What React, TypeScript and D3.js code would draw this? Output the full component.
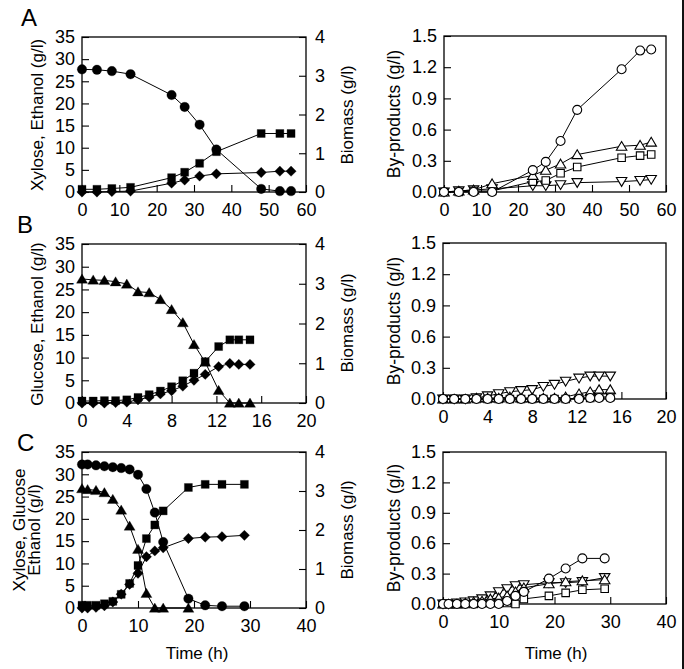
import React, { useEffect, useRef } from 'react';
import * as d3 from 'd3';

// ---- row A: xylose
const timeA = [0, 4, 8, 13, 24, 27.5, 31.5, 36, 48, 53, 56];
const xyloseA = [27.7, 27.6, 27.3, 26.6, 21.9, 19.2, 15.2, 9.6, 0.7, 0.2, 0.2];
const ethanolA = [0, 0, 0.1, 0.2, 2.0, 2.7, 3.6, 4.1, 4.4, 4.7, 4.7];
const biomassA = [0.07, 0.07, 0.09, 0.12, 0.37, 0.51, 0.74, 1.04, 1.51, 1.51, 1.51];
const byCircleA = [0, 0, 0, 0, 0.21, 0.29, 0.49, 0.79, 1.18, 1.36, 1.37];
const byTriUpA = [0, 0.01, 0.02, 0.08, 0.16, 0.21, 0.27, 0.36, 0.44, 0.45, 0.48];
const bySquareA = [0, 0, 0.01, 0.01, 0.1, 0.11, 0.18, 0.24, 0.33, 0.35, 0.36];
const byTriDownA = [0, 0.01, 0.02, 0.03, 0.06, 0.06, 0.07, 0.09, 0.1, 0.11, 0.12];

// ---- row B: glucose
const timeB = [0, 1, 2, 3, 4, 5, 6, 7, 8, 9, 10, 11, 12.2, 13.2, 14, 15];
const glucoseB = [27.3, 27.1, 27.0, 26.7, 26.2, 24.5, 24.3, 22.8, 20.6, 17.7, 12.9, 9.0, 2.8, 0, 0, 0];
const ethanolB = [0, 0, 0, 0.1, 0.2, 0.7, 1.3, 2.0, 2.7, 3.7, 5.0, 6.3, 8.0, 8.7, 8.5, 8.5];
const biomassB = [0.05, 0.05, 0.06, 0.06, 0.08, 0.14, 0.21, 0.3, 0.41, 0.56, 0.75, 1.04, 1.42, 1.59, 1.59, 1.59];
const byTriDownB = [0, 0, 0, 0.01, 0.03, 0.05, 0.07, 0.08, 0.09, 0.12, 0.14, 0.17, 0.2, 0.22, 0.22, 0.22];
const byTriUpB = [0, 0, 0, 0.01, 0.01, 0.01, 0.02, 0.01, 0.01, 0.01, 0.01, 0.02, 0.05, 0.07, 0.09, 0.09];
const bySquareB = [0, 0, 0, 0, 0, 0, 0, 0, 0, 0, 0, 0, 0.01, 0.01, 0.02, 0.02];
const byCircleB = [0, 0, 0, 0, 0, 0, 0, 0, 0, 0, 0, 0, 0, 0.01, 0.01, 0.01];

// ---- row C: xylose + glucose
const timeC = [0, 1, 2.5, 4, 5.5, 7, 8.5, 10, 11.5, 13, 14.5, 19, 22, 25, 29];
const timeGlucoseC = [0, 1, 2.5, 4, 5.5, 7, 8.5, 10, 11.5, 13, 14.5, 19];
const xyloseC = [32.2, 32.2, 32.0, 31.8, 31.6, 31.4, 31.1, 29.9, 26.7, 21.4, 14.8, 2.1, 0.6, 0.4, 0.4];
const glucoseC = [26.8, 26.6, 26.4, 25.9, 24.4, 22.0, 18.4, 13.2, 3.3, 0, 0, 0];
const ethanolC = [0, 0, 0.15, 0.5, 1.35, 3.1, 5.3, 7.8, 11.5, 12.8, 13.5, 15.6, 15.9, 16.0, 16.3];
const biomassC = [0.07, 0.07, 0.07, 0.11, 0.17, 0.35, 0.63, 1.09, 1.78, 2.13, 2.49, 3.09, 3.17, 3.17, 3.17];
const byCircleC = [0, 0, 0, 0, 0, 0, 0, 0, 0.03, 0.08, 0.12, 0.25, 0.35, 0.45, 0.45];
const byTriDownC = [0, 0, 0.01, 0.02, 0.03, 0.05, 0.08, 0.12, 0.15, 0.18, 0.19, 0.21, 0.21, 0.22, 0.26];
const byTriUpC = [0, 0, 0, 0.01, 0.02, 0.03, 0.05, 0.06, 0.08, 0.12, 0.16, 0.2, 0.22, 0.23, 0.24];
const bySquareC = [0, 0, 0, 0, 0, 0.01, 0.01, 0.01, 0.01, 0, 0.05, 0.08, 0.11, 0.14, 0.15];

// ---- ticks
const concTicks = [0, 5, 10, 15, 20, 25, 30, 35];
const biomassTicks = [0, 1, 2, 3, 4];
const byTicks = [0, 0.3, 0.6, 0.9, 1.2, 1.5];
const timeTicksA = [0, 10, 20, 30, 40, 50, 60];
const timeTicksB = [0, 4, 8, 12, 16, 20];
const timeTicksC = [0, 10, 20, 30, 40];

const W = 684, H = 669;
const FONT = "'Liberation Sans', Arial, Helvetica, sans-serif";

type Shape = 'circle' | 'square' | 'diamond' | 'triUp' | 'triDown';

function markerPath(shape: Shape, s: number) {
  const h = s / 2;
  if (shape === 'circle') return `M${h},0A${h},${h} 0 1,1 ${-h},0A${h},${h} 0 1,1 ${h},0Z`;
  if (shape === 'square') return `M${-h},${-h}H${h}V${h}H${-h}Z`;
  if (shape === 'diamond') return `M0,${-h * 1.15}L${h * 1.15},0L0,${h * 1.15}L${-h * 1.15},0Z`;
  if (shape === 'triUp') return `M0,${-h}L${h * 1.1},${h * 0.85}L${-h * 1.1},${h * 0.85}Z`;
  return `M0,${h}L${h * 1.1},${-h * 0.85}L${-h * 1.1},${-h * 0.85}Z`;
}

const S = (t, v, shape: Shape, filled, right = false) => ({ t, v, shape, filled, right });

const panels = [
  { x0: 82, x1: 306, y0: 37, y1: 192, xMax: 60, xTicks: timeTicksA, dual: true,
    series: [S(timeA, xyloseA, 'circle', true), S(timeA, biomassA, 'square', true, true), S(timeA, ethanolA, 'diamond', true)] },
  { x0: 444, x1: 666, y0: 36, y1: 192, xMax: 60, xTicks: timeTicksA, dual: false,
    series: [S(timeA, byTriDownA, 'triDown', false), S(timeA, bySquareA, 'square', false), S(timeA, byTriUpA, 'triUp', false), S(timeA, byCircleA, 'circle', false)] },
  { x0: 82, x1: 306, y0: 244, y1: 403, xMax: 20, xTicks: timeTicksB, dual: true,
    series: [S(timeB, glucoseB, 'triUp', true), S(timeB, biomassB, 'square', true, true), S(timeB, ethanolB, 'diamond', true)] },
  { x0: 443, x1: 666, y0: 243, y1: 399, xMax: 20, xTicks: timeTicksB, dual: false,
    series: [S(timeB, byTriDownB, 'triDown', false), S(timeB, byTriUpB, 'triUp', false), S(timeB, bySquareB, 'square', false), S(timeB, byCircleB, 'circle', false)] },
  { x0: 82, x1: 306, y0: 452, y1: 608, xMax: 40, xTicks: timeTicksC, dual: true,
    series: [S(timeC, xyloseC, 'circle', true), S(timeGlucoseC, glucoseC, 'triUp', true), S(timeC, biomassC, 'square', true, true), S(timeC, ethanolC, 'diamond', true)] },
  { x0: 443, x1: 666, y0: 452, y1: 604, xMax: 40, xTicks: timeTicksC, dual: false,
    series: [S(timeC, byTriDownC, 'triDown', false), S(timeC, byTriUpC, 'triUp', false), S(timeC, bySquareC, 'square', false), S(timeC, byCircleC, 'circle', false)] },
];

const sizes = { circle: 9.5, square: 8, diamond: 9, triUp: 10, triDown: 10 };

function styleAxis(ax) {
  ax.select('.domain').remove();
  ax.selectAll('line').attr('stroke', '#000').attr('stroke-width', 1.1);
  ax.selectAll('text').attr('font-size', 18).attr('font-family', FONT).attr('fill', '#000');
}

function drawPanel(svg, p) {
  const x = d3.scaleLinear().domain([0, p.xMax]).range([p.x0, p.x1]);
  const y = p.dual
    ? d3.scaleLinear().domain([0, 35]).range([p.y1, p.y0])
    : d3.scaleLinear().domain([0, 1.5]).range([p.y1, p.y0]);
  const y2 = d3.scaleLinear().domain([0, 4]).range([p.y1, p.y0]);
  const g = svg.append('g');

  styleAxis(g.append('g').attr('transform', `translate(0,${p.y1})`)
    .call(d3.axisBottom(x).tickValues(p.xTicks).tickSize(-7).tickSizeOuter(0).tickPadding(11)));
  styleAxis(g.append('g').attr('transform', `translate(${p.x0},0)`)
    .call(d3.axisLeft(y).tickValues(p.dual ? concTicks : byTicks)
      .tickFormat(p.dual ? d3.format('d') : d3.format('.1f'))
      .tickSize(-7).tickSizeOuter(0).tickPadding(7)));
  if (p.dual) {
    styleAxis(g.append('g').attr('transform', `translate(${p.x1},0)`)
      .call(d3.axisRight(y2).tickValues(biomassTicks).tickFormat(d3.format('d'))
        .tickSize(-7).tickSizeOuter(0).tickPadding(9)));
  }

  g.append('rect')
    .attr('x', p.x0).attr('y', p.y0)
    .attr('width', p.x1 - p.x0).attr('height', p.y1 - p.y0)
    .attr('fill', 'none').attr('stroke', '#000').attr('stroke-width', 1.3);

  const pts = p.series.map(s => {
    const sc = s.right ? y2 : y;
    return s.t.map((t, i) => [x(t), sc(s.v[i])]);
  });
  p.series.forEach((s, k) => {
    g.append('path').attr('d', d3.line()(pts[k]))
      .attr('fill', 'none').attr('stroke', '#000').attr('stroke-width', 1);
  });
  p.series.forEach((s, k) => {
    g.selectAll(null).data(pts[k]).enter().append('path')
      .attr('transform', d => `translate(${d[0]},${d[1]})`)
      .attr('d', markerPath(s.shape, s.filled ? sizes[s.shape] : sizes[s.shape] - 0.5))
      .attr('fill', s.filled ? '#000' : '#fff')
      .attr('stroke', '#000')
      .attr('stroke-width', s.filled ? 0.3 : 1.1);
  });
}

function vText(svg, x, y, txt, size = 17) {
  svg.append('text')
    .attr('transform', `translate(${x},${y}) rotate(-90)`)
    .attr('text-anchor', 'middle')
    .attr('font-family', FONT).attr('font-size', size).attr('fill', '#000')
    .text(txt);
}

function hText(svg, x, y, txt, size = 17, anchor = 'middle') {
  svg.append('text')
    .attr('x', x).attr('y', y)
    .attr('text-anchor', anchor)
    .attr('font-family', FONT).attr('font-size', size).attr('fill', '#000')
    .text(txt);
}

export default function App() {
  const ref = useRef<SVGSVGElement>(null);
  useEffect(() => {
    const svg = d3.select(ref.current);
    svg.selectAll('*').remove();
    svg.append('rect').attr('width', W).attr('height', H).attr('fill', '#fff');

    panels.forEach(p => drawPanel(svg, p));

    // axis titles
    vText(svg, 43, 115, 'Xylose, Ethanol (g/l)');
    vText(svg, 43, 324, 'Glucose, Ethanol (g/l)');
    vText(svg, 25, 530, 'Xylose, Glucose');
    vText(svg, 40, 530, 'Ethanol (g/l)');
    [115, 323, 530].forEach(c => vText(svg, 353, c, 'Biomass (g/l)'));
    vText(svg, 400, 114, 'By-products (g/l)', 17.5);
    vText(svg, 400, 321, 'By-products (g/l)', 17.5);
    vText(svg, 400, 528, 'By-products (g/l)', 17.5);
    hText(svg, 197, 659, 'Time (h)');
    hText(svg, 556, 659, 'Time (h)');

    // panel letters
    hText(svg, 21, 26, 'A', 24, 'start');
    hText(svg, 17, 233, 'B', 24, 'start');
    hText(svg, 17, 451, 'C', 24, 'start');

    // dark scan edge on the right
    svg.append('rect').attr('x', 682).attr('y', 0).attr('width', 2).attr('height', H).attr('fill', '#111');
  }, []);

  return (
    <svg ref={ref} width={W} height={H}
      style={{ position: 'absolute', left: 0, top: 0, display: 'block' }} />
  );
}
